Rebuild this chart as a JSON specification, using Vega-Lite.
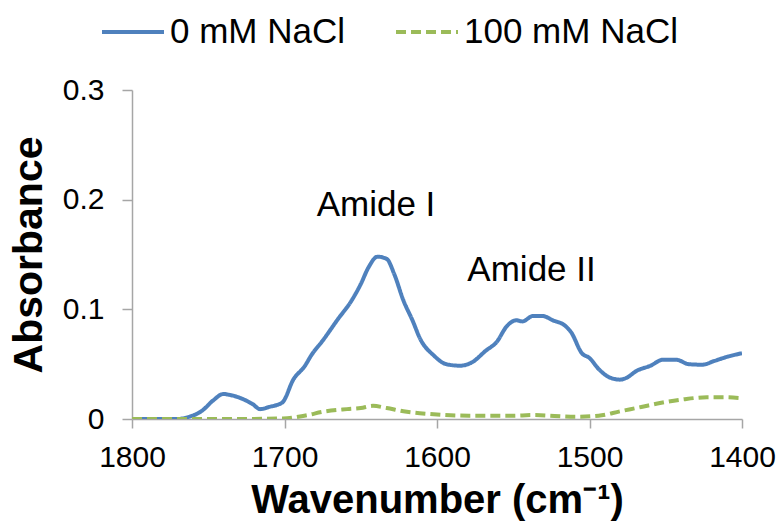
{
  "$schema": "https://vega.github.io/schema/vega-lite/v6.json",
  "width": 610,
  "height": 329,
  "autosize": {"type": "none"},
  "padding": {"left": 132, "top": 90, "right": 40, "bottom": 104},
  "background": "white",
  "config": {
    "font": "Liberation Sans",
    "view": {"stroke": null},
    "axis": {"grid": false, "domainColor": "#A6A6A6", "tickColor": "#A6A6A6", "domainWidth": 1.5, "tickWidth": 1.5, "labelColor": "#000000", "titleColor": "#000000", "labelFont": "Liberation Sans", "titleFont": "Liberation Sans"}
  },
  "datasets": {
    "spectra": [
      {"wn": 1800, "abs": 0.0, "series": "0 mM NaCl"},
      {"wn": 1785, "abs": 0.0, "series": "0 mM NaCl"},
      {"wn": 1770, "abs": 0.0, "series": "0 mM NaCl"},
      {"wn": 1764, "abs": 0.0015, "series": "0 mM NaCl"},
      {"wn": 1754, "abs": 0.0076, "series": "0 mM NaCl"},
      {"wn": 1747, "abs": 0.0167, "series": "0 mM NaCl"},
      {"wn": 1740, "abs": 0.0228, "series": "0 mM NaCl"},
      {"wn": 1736, "abs": 0.022, "series": "0 mM NaCl"},
      {"wn": 1727, "abs": 0.018, "series": "0 mM NaCl"},
      {"wn": 1721, "abs": 0.0137, "series": "0 mM NaCl"},
      {"wn": 1716, "abs": 0.009, "series": "0 mM NaCl"},
      {"wn": 1710, "abs": 0.011, "series": "0 mM NaCl"},
      {"wn": 1701.5, "abs": 0.015, "series": "0 mM NaCl"},
      {"wn": 1694, "abs": 0.0365, "series": "0 mM NaCl"},
      {"wn": 1687, "abs": 0.0477, "series": "0 mM NaCl"},
      {"wn": 1682, "abs": 0.059, "series": "0 mM NaCl"},
      {"wn": 1675, "abs": 0.0714, "series": "0 mM NaCl"},
      {"wn": 1665, "abs": 0.091, "series": "0 mM NaCl"},
      {"wn": 1656, "abs": 0.108, "series": "0 mM NaCl"},
      {"wn": 1650, "abs": 0.123, "series": "0 mM NaCl"},
      {"wn": 1645, "abs": 0.138, "series": "0 mM NaCl"},
      {"wn": 1639, "abs": 0.148, "series": "0 mM NaCl"},
      {"wn": 1633, "abs": 0.146, "series": "0 mM NaCl"},
      {"wn": 1628, "abs": 0.132, "series": "0 mM NaCl"},
      {"wn": 1622, "abs": 0.108, "series": "0 mM NaCl"},
      {"wn": 1616, "abs": 0.0897, "series": "0 mM NaCl"},
      {"wn": 1611, "abs": 0.073, "series": "0 mM NaCl"},
      {"wn": 1602, "abs": 0.0578, "series": "0 mM NaCl"},
      {"wn": 1594, "abs": 0.05, "series": "0 mM NaCl"},
      {"wn": 1585, "abs": 0.0486, "series": "0 mM NaCl"},
      {"wn": 1577, "abs": 0.0517, "series": "0 mM NaCl"},
      {"wn": 1568, "abs": 0.0623, "series": "0 mM NaCl"},
      {"wn": 1561, "abs": 0.07, "series": "0 mM NaCl"},
      {"wn": 1554, "abs": 0.085, "series": "0 mM NaCl"},
      {"wn": 1548, "abs": 0.09, "series": "0 mM NaCl"},
      {"wn": 1544, "abs": 0.089, "series": "0 mM NaCl"},
      {"wn": 1537, "abs": 0.094, "series": "0 mM NaCl"},
      {"wn": 1531, "abs": 0.094, "series": "0 mM NaCl"},
      {"wn": 1524, "abs": 0.09, "series": "0 mM NaCl"},
      {"wn": 1516, "abs": 0.085, "series": "0 mM NaCl"},
      {"wn": 1512, "abs": 0.079, "series": "0 mM NaCl"},
      {"wn": 1505, "abs": 0.06, "series": "0 mM NaCl"},
      {"wn": 1500, "abs": 0.0556, "series": "0 mM NaCl"},
      {"wn": 1494, "abs": 0.0456, "series": "0 mM NaCl"},
      {"wn": 1487, "abs": 0.038, "series": "0 mM NaCl"},
      {"wn": 1480, "abs": 0.0359, "series": "0 mM NaCl"},
      {"wn": 1476, "abs": 0.0374, "series": "0 mM NaCl"},
      {"wn": 1469, "abs": 0.044, "series": "0 mM NaCl"},
      {"wn": 1460, "abs": 0.0486, "series": "0 mM NaCl"},
      {"wn": 1452, "abs": 0.054, "series": "0 mM NaCl"},
      {"wn": 1443, "abs": 0.054, "series": "0 mM NaCl"},
      {"wn": 1435, "abs": 0.05, "series": "0 mM NaCl"},
      {"wn": 1426, "abs": 0.0495, "series": "0 mM NaCl"},
      {"wn": 1418, "abs": 0.053, "series": "0 mM NaCl"},
      {"wn": 1409, "abs": 0.057, "series": "0 mM NaCl"},
      {"wn": 1400, "abs": 0.06, "series": "0 mM NaCl"},
      {"wn": 1800, "abs": 0.0, "series": "100 mM NaCl"},
      {"wn": 1760, "abs": 0.0, "series": "100 mM NaCl"},
      {"wn": 1730, "abs": 0.0, "series": "100 mM NaCl"},
      {"wn": 1701, "abs": 0.0005, "series": "100 mM NaCl"},
      {"wn": 1687, "abs": 0.003, "series": "100 mM NaCl"},
      {"wn": 1673, "abs": 0.007, "series": "100 mM NaCl"},
      {"wn": 1659, "abs": 0.009, "series": "100 mM NaCl"},
      {"wn": 1650, "abs": 0.01, "series": "100 mM NaCl"},
      {"wn": 1642, "abs": 0.012, "series": "100 mM NaCl"},
      {"wn": 1633, "abs": 0.01, "series": "100 mM NaCl"},
      {"wn": 1622, "abs": 0.007, "series": "100 mM NaCl"},
      {"wn": 1605, "abs": 0.0046, "series": "100 mM NaCl"},
      {"wn": 1579, "abs": 0.003, "series": "100 mM NaCl"},
      {"wn": 1551, "abs": 0.003, "series": "100 mM NaCl"},
      {"wn": 1537, "abs": 0.0036, "series": "100 mM NaCl"},
      {"wn": 1509, "abs": 0.002, "series": "100 mM NaCl"},
      {"wn": 1494, "abs": 0.003, "series": "100 mM NaCl"},
      {"wn": 1480, "abs": 0.007, "series": "100 mM NaCl"},
      {"wn": 1466, "abs": 0.011, "series": "100 mM NaCl"},
      {"wn": 1452, "abs": 0.015, "series": "100 mM NaCl"},
      {"wn": 1438, "abs": 0.018, "series": "100 mM NaCl"},
      {"wn": 1423, "abs": 0.0198, "series": "100 mM NaCl"},
      {"wn": 1412, "abs": 0.0198, "series": "100 mM NaCl"},
      {"wn": 1400, "abs": 0.019, "series": "100 mM NaCl"}
    ],
    "labels": [
      {"wn": 1640, "abs": 0.195, "label": "Amide I"},
      {"wn": 1538, "abs": 0.136, "label": "Amide II"}
    ]
  },
  "layer": [
    {
      "data": {"name": "spectra"},
      "mark": {"type": "line", "strokeWidth": 4, "interpolate": "monotone", "strokeCap": "butt", "clip": true},
      "encoding": {
        "x": {
          "field": "wn", "type": "quantitative",
          "scale": {"domain": [1400, 1800], "reverse": true, "nice": false, "zero": false},
          "axis": {"values": [1800, 1700, 1600, 1500, 1400], "format": "d", "title": "Wavenumber (cm⁻¹)", "labelFontSize": 30, "titleFontSize": 40, "titleFontWeight": "bold", "tickSize": 9, "labelPadding": 14, "titlePadding": 8, "labelFlush": false}
        },
        "y": {
          "field": "abs", "type": "quantitative",
          "scale": {"domain": [0, 0.3], "nice": false},
          "axis": {"values": [0, 0.1, 0.2, 0.3], "format": ".1~f", "title": "Absorbance", "labelFontSize": 30, "titleFontSize": 41, "titleFontWeight": "bold", "tickSize": 10, "labelPadding": 18, "titlePadding": 12}
        },
        "color": {
          "field": "series", "type": "nominal",
          "scale": {"domain": ["0 mM NaCl", "100 mM NaCl"], "range": ["#4F81BD", "#9BBB59"]},
          "legend": {"title": null, "orient": "none", "direction": "horizontal", "legendX": -32, "legendY": -91, "labelFontSize": 35, "labelLimit": 400, "symbolType": "stroke", "symbolSize": 3844, "symbolStrokeWidth": 4, "columnPadding": 42, "labelOffset": 4}
        },
        "strokeDash": {
          "field": "series", "type": "nominal",
          "scale": {"domain": ["0 mM NaCl", "100 mM NaCl"], "range": [[1, 0], [10, 5]]},
          "legend": {"title": null, "orient": "none", "direction": "horizontal", "legendX": -32, "legendY": -91, "labelFontSize": 35, "labelLimit": 400, "symbolType": "stroke", "symbolSize": 3844, "symbolStrokeWidth": 4, "columnPadding": 42, "labelOffset": 4}
        }
      }
    },
    {
      "data": {"name": "labels"},
      "mark": {"type": "text", "fontSize": 35, "font": "Liberation Sans", "color": "#000000", "baseline": "middle", "align": "center"},
      "encoding": {
        "x": {"field": "wn", "type": "quantitative"},
        "y": {"field": "abs", "type": "quantitative"},
        "text": {"field": "label"}
      }
    }
  ]
}
